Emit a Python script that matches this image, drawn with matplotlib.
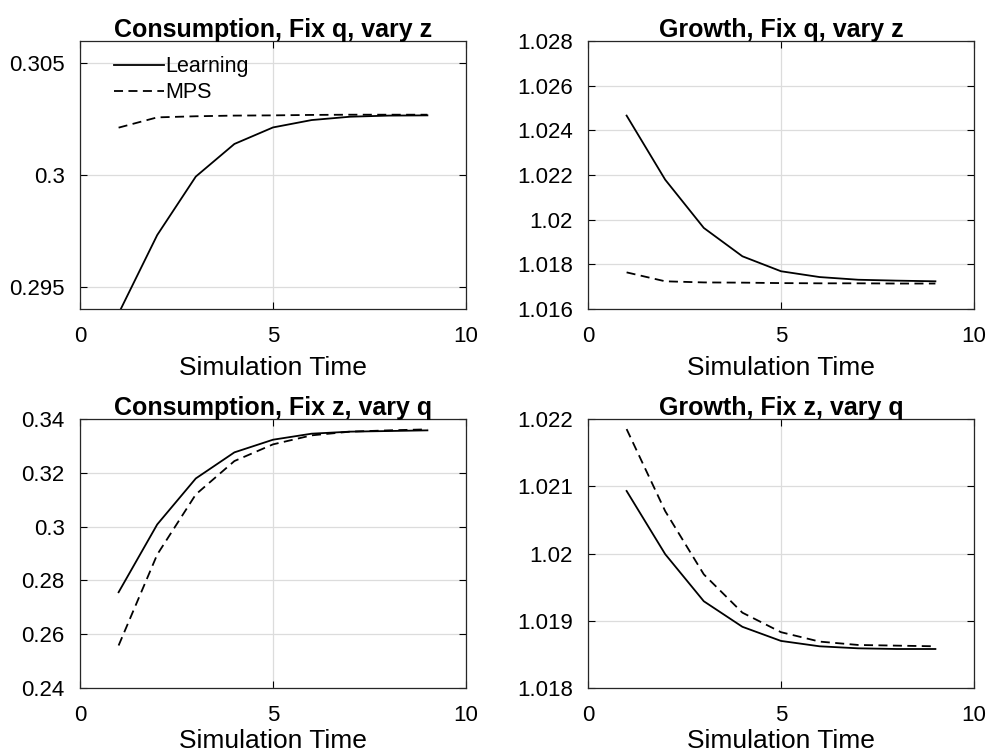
import matplotlib
matplotlib.use("Agg")
import matplotlib.pyplot as plt
from matplotlib.ticker import FuncFormatter

plt.rcParams['font.family'] = ['Liberation Sans', 'DejaVu Sans']

t = [1, 2, 3, 4, 5, 6, 7, 8, 9]

cons_qz_learning = [0.2938, 0.29731, 0.29993, 0.30139, 0.30213, 0.30246, 0.30261, 0.30266, 0.30267]
cons_qz_mps = [0.30212, 0.30258, 0.30263, 0.30266, 0.30267, 0.30269, 0.30270, 0.30270, 0.30270]

growth_qz_learning = [1.02466, 1.02179, 1.01963, 1.01836, 1.01769, 1.01743, 1.01731, 1.01727, 1.01724]
growth_qz_mps = [1.01764, 1.01724, 1.01719, 1.01718, 1.01716, 1.01715, 1.01715, 1.01714, 1.01714]

cons_zq_learning = [0.2756, 0.3008, 0.3179, 0.3276, 0.3323, 0.33454, 0.3353, 0.33553, 0.33578]
cons_zq_mps = [0.2558, 0.2896, 0.31196, 0.32437, 0.33057, 0.33392, 0.3353, 0.33578, 0.33615]

growth_zq_learning = [1.02093, 1.01999, 1.01929, 1.01891, 1.01870, 1.01862, 1.01859, 1.01858, 1.01858]
growth_zq_mps = [1.02185, 1.02063, 1.01969, 1.01912, 1.01883, 1.01869, 1.01864, 1.01863, 1.01862]

titles = ["Consumption, Fix q, vary z", "Growth, Fix q, vary z",
          "Consumption, Fix z, vary q", "Growth, Fix z, vary q"]
series = [(cons_qz_learning, cons_qz_mps), (growth_qz_learning, growth_qz_mps),
          (cons_zq_learning, cons_zq_mps), (growth_zq_learning, growth_zq_mps)]
ylims = [(0.294, 0.306), (1.016, 1.028), (0.24, 0.34), (1.018, 1.022)]
yticks = [[0.295, 0.300, 0.305],
          [1.016, 1.018, 1.020, 1.022, 1.024, 1.026, 1.028],
          [0.24, 0.26, 0.28, 0.30, 0.32, 0.34],
          [1.018, 1.019, 1.020, 1.021, 1.022]]

fig = plt.figure(figsize=(9.86, 7.56), dpi=100)
W, H = 986, 756
rects = [(80, 41, 466, 309), (588, 41, 974, 309),
         (80, 419, 466, 688), (588, 419, 974, 688)]

fmt = FuncFormatter(lambda v, p: ('%g' % round(v, 6)))

for i, (r, title, (learn, mps), yl, yt) in enumerate(zip(rects, titles, series, ylims, yticks)):
    x0, y0, x1, y1 = r
    ax = fig.add_axes([x0 / W, 1 - y1 / H, (x1 - x0) / W, (y1 - y0) / H])
    ax.plot(t, learn, color='black', lw=1.3, ls='-', label='Learning')
    ax.plot(t, mps, color='black', lw=1.3, ls=(0, (5, 3)), label='MPS')
    ax.set_xlim(0, 10)
    ax.set_ylim(*yl)
    ax.set_xticks([0, 5, 10])
    ax.set_yticks(yt)
    ax.yaxis.set_major_formatter(fmt)
    ax.grid(True, color='#dcdcdc', lw=0.9)
    ax.set_axisbelow(True)
    ax.tick_params(direction='in', top=True, right=True, labelsize=16, length=5, width=0.8)
    ax.tick_params(axis='x', pad=12.5)
    ax.tick_params(axis='y', pad=11)
    for s in ax.spines.values():
        s.set_linewidth(0.9)
        s.set_color('#262626')
    ax.set_title(title, fontsize=18, fontweight='bold', pad=3)
    ax.set_xlabel('Simulation Time', fontsize=19, labelpad=6 if i < 2 else 2)
    if i == 0:
        ax.legend(loc='upper left', frameon=False, fontsize=15.5, handlelength=2.3,
                  handletextpad=0.05, borderaxespad=0.3, labelspacing=0.25,
                  bbox_to_anchor=(0.05, 1.0))

fig.savefig('out.png', dpi=100)
